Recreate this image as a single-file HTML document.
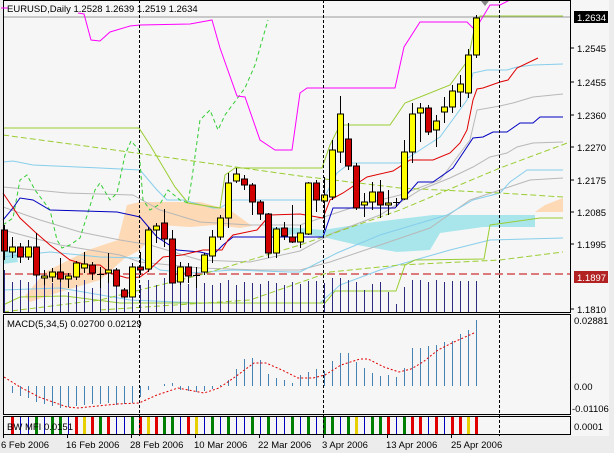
<!DOCTYPE html>
<html><head><meta charset="utf-8"><style>
html,body{margin:0;padding:0;background:#f0f0f0;}
svg{display:block;font-family:"Liberation Sans",sans-serif;}
</style></head><body>
<svg width="614" height="453" viewBox="0 0 614 453" xmlns="http://www.w3.org/2000/svg">
<rect x="0" y="0" width="614" height="453" fill="#ececec"/>
<rect x="3" y="0" width="568" height="312" fill="#f6f6f6"/>
<rect x="3" y="314" width="568" height="100" fill="#f6f6f6"/>
<rect x="3" y="416" width="568" height="18" fill="#f6f6f6"/>
<rect x="571" y="0" width="38" height="436" fill="#f6f6f6"/>

<!-- clouds -->
<polygon points="25,296 45,272 65,262 88,250 118,240 127,205 140,202 200,202 230,210 252,226 240,228 215,225 190,227 160,225 140,250 125,258 100,280 60,292 30,302" fill="#fdd9b5"/>
<polygon points="272,227 300,228 323,230 367,223 433,215 535,215 535,227 483,227 440,233 430,250 397,252 357,245 323,237 300,234 272,236" fill="#a8e6ec"/>
<polygon points="3,250 16,252 18,262 3,264" fill="#a8e6ec"/>
<polygon points="535,212 545,205 563,198 563,212" fill="#fdd9b5"/>

<!-- horizontal lines -->
<line x1="3" y1="17" x2="571" y2="17" stroke="#999" stroke-width="1"/>
<line x1="3" y1="274" x2="571" y2="274" stroke="#c00000" stroke-dasharray="8,4"/>

<g fill="none" stroke-width="1">
<polyline stroke="#b8b8b8" points="3,187 67,193 133,195 160,210 200,222 250,225 300,225 330,215 360,205 400,195 440,180 470,140 477,110 500,106 513,103 533,97 563,94"/>
<polyline stroke="#b8b8b8" points="3,207 40,220 80,232 120,240 150,245 200,260 250,262 300,251 333,233 380,215 420,190 450,178 473,167 490,157 507,153 517,147 533,143 563,142"/>
<polyline stroke="#b8b8b8" points="3,230 60,245 120,255 140,262 200,268 260,270 300,270 330,262 380,245 430,228 470,200 500,190 530,180 563,178"/>
<polyline stroke="#87ceeb" points="3,162 13,161 33,165 100,168 140,170 157,190 167,200 183,200 213,208 220,208 233,200 300,200 323,200 337,173 350,163 400,163 440,137 467,100 473,73 487,70 507,70 517,67 533,65 563,64"/>
<polyline stroke="#87ceeb" points="3,257 20,255 50,252 100,257 140,258 160,270 190,273 233,270 290,272 300,272 337,253 380,235 447,215 473,200 500,193 510,182 527,170 563,170"/>
<polyline stroke="#87ceeb" points="3,290 60,288 130,300 200,303 320,303 340,285 380,270 450,250 490,240 563,238"/>
<polyline stroke="#9acd32" points="3,128 139,128 150,145 175,187 188,203 220,208 225,175 235,168 322,168 330,145 340,125 390,125 405,103 450,85 468,60 476,20 480,16 563,16"/>
<polyline stroke="#9acd32" points="3,305 20,297 65,296 120,303 325,303 335,291 396,291 405,265 415,260 484,259 490,225 540,218 563,218"/>
<polyline stroke="#9acd32" stroke-dasharray="6,3" points="3,135 100,148 200,162 300,176 400,188 500,193 563,197"/>
<polyline stroke="#9acd32" stroke-dasharray="6,3" points="3,312 100,300 200,275 300,245 400,210 500,168 570,142"/>
<polyline stroke="#9acd32" stroke-dasharray="6,3" points="100,310 250,300 330,272 400,265 500,260 563,252"/>
<polyline stroke="#33cc33" stroke-dasharray="4,3" points="3,225 13,218 20,180 27,175 35,190 50,210 57,240 62,248 70,245 80,238 95,190 100,183 110,200 117,193 125,155 131,141 139,150 143,200 150,210 160,204 168,190 180,200 188,203 192,178 200,120 210,110 218,130 225,115 245,88 255,65 268,20"/>
<polyline stroke="#0000c0" points="3,220 13,208 20,198 33,200 50,210 117,212 140,217 157,237 177,250 200,252 213,255 223,245 233,237 323,237 333,208 395,208 418,182 433,182 453,168 473,138 483,137 493,132 507,132 520,123 533,123 540,117 563,117"/>
<polyline stroke="#e00000" points="3,193 20,218 35,232 50,245 70,260 87,265 100,265 110,273 127,278 140,277 147,272 163,257 182,255 203,250 222,250 228,240 233,235 257,230 270,215 300,214 323,218 330,200 343,193 367,177 393,171 410,160 433,160 450,153 460,143 467,130 473,100 477,89 483,88 500,82 508,80 517,68 538,58"/>
<polyline stroke="#ff00ff" points="78,13 84,14 91,40 100,41 110,32 130,26 140,25 190,24 212,20 220,48 237,96 245,97 260,140 275,150 292,150 300,93 307,88 395,88 404,47 420,22 467,22 475,30 490,5 500,5 510,0"/>
</g>

<g stroke="#2b2b80" stroke-width="1">
<line x1="4.5" y1="312" x2="4.5" y2="270"/><line x1="12.5" y1="312" x2="12.5" y2="282"/><line x1="20.5" y1="312" x2="20.5" y2="280"/><line x1="28.5" y1="312" x2="28.5" y2="282"/><line x1="36.5" y1="312" x2="36.5" y2="276"/><line x1="44.5" y1="312" x2="44.5" y2="284"/><line x1="52.5" y1="312" x2="52.5" y2="283"/><line x1="60.5" y1="312" x2="60.5" y2="282"/><line x1="68.5" y1="312" x2="68.5" y2="292"/><line x1="76.5" y1="312" x2="76.5" y2="285"/><line x1="84.5" y1="312" x2="84.5" y2="280"/><line x1="92.5" y1="312" x2="92.5" y2="288"/><line x1="100.5" y1="312" x2="100.5" y2="287"/><line x1="108.5" y1="312" x2="108.5" y2="280"/><line x1="116.5" y1="312" x2="116.5" y2="283"/><line x1="124.5" y1="312" x2="124.5" y2="296"/><line x1="132.5" y1="312" x2="132.5" y2="276"/><line x1="140.5" y1="312" x2="140.5" y2="285"/><line x1="148.5" y1="312" x2="148.5" y2="280"/><line x1="156.5" y1="312" x2="156.5" y2="285"/><line x1="164.5" y1="312" x2="164.5" y2="278"/><line x1="172.5" y1="312" x2="172.5" y2="283"/><line x1="180.5" y1="312" x2="180.5" y2="280"/><line x1="188.5" y1="312" x2="188.5" y2="284"/><line x1="196.5" y1="312" x2="196.5" y2="286"/><line x1="204.5" y1="312" x2="204.5" y2="283"/><line x1="212.5" y1="312" x2="212.5" y2="285"/><line x1="220.5" y1="312" x2="220.5" y2="283"/><line x1="228.5" y1="312" x2="228.5" y2="280"/><line x1="236.5" y1="312" x2="236.5" y2="285"/><line x1="244.5" y1="312" x2="244.5" y2="282"/><line x1="252.5" y1="312" x2="252.5" y2="283"/><line x1="260.5" y1="312" x2="260.5" y2="284"/><line x1="268.5" y1="312" x2="268.5" y2="281"/><line x1="276.5" y1="312" x2="276.5" y2="283"/><line x1="284.5" y1="312" x2="284.5" y2="285"/><line x1="292.5" y1="312" x2="292.5" y2="282"/><line x1="300.5" y1="312" x2="300.5" y2="284"/><line x1="308.5" y1="312" x2="308.5" y2="281"/><line x1="316.5" y1="312" x2="316.5" y2="281"/><line x1="324.5" y1="312" x2="324.5" y2="283"/><line x1="332.5" y1="312" x2="332.5" y2="278"/><line x1="340.5" y1="312" x2="340.5" y2="278"/><line x1="348.5" y1="312" x2="348.5" y2="280"/><line x1="356.5" y1="312" x2="356.5" y2="282"/><line x1="364.5" y1="312" x2="364.5" y2="290"/><line x1="372.5" y1="312" x2="372.5" y2="284"/><line x1="380.5" y1="312" x2="380.5" y2="282"/><line x1="388.5" y1="312" x2="388.5" y2="292"/><line x1="396.5" y1="312" x2="396.5" y2="304"/><line x1="404.5" y1="312" x2="404.5" y2="287"/><line x1="412.5" y1="312" x2="412.5" y2="280"/><line x1="420.5" y1="312" x2="420.5" y2="280"/><line x1="428.5" y1="312" x2="428.5" y2="282"/><line x1="436.5" y1="312" x2="436.5" y2="280"/><line x1="444.5" y1="312" x2="444.5" y2="282"/><line x1="452.5" y1="312" x2="452.5" y2="281"/><line x1="460.5" y1="312" x2="460.5" y2="281"/><line x1="468.5" y1="312" x2="468.5" y2="281"/><line x1="476.5" y1="312" x2="476.5" y2="281"/>
</g>

<g stroke="#000" stroke-width="1">
<line x1="4.5" y1="225" x2="4.5" y2="260"/><rect x="1.5" y="230" width="6" height="21" fill="#d00000"/>
<line x1="12.5" y1="237" x2="12.5" y2="258"/><rect x="9.5" y="247" width="6" height="5" fill="#ffff00"/>
<line x1="20.5" y1="243" x2="20.5" y2="263"/><rect x="17.5" y="247" width="6" height="10" fill="#d00000"/>
<line x1="28.5" y1="240" x2="28.5" y2="260"/><rect x="25.5" y="247" width="6" height="10" fill="#ffff00"/>
<line x1="36.5" y1="233" x2="36.5" y2="277"/><rect x="33.5" y="247" width="6" height="28" fill="#d00000"/>
<line x1="44.5" y1="270" x2="44.5" y2="285"/><rect x="41.5" y="276" width="6" height="2" fill="#ffff00"/>
<line x1="52.5" y1="268" x2="52.5" y2="282"/><rect x="49.5" y="272" width="6" height="5" fill="#ffff00"/>
<line x1="60.5" y1="258" x2="60.5" y2="282"/><rect x="57.5" y="272" width="6" height="7" fill="#d00000"/>
<line x1="68.5" y1="273" x2="68.5" y2="288"/><rect x="65.5" y="276" width="6" height="3" fill="#ffff00"/>
<line x1="76.5" y1="261" x2="76.5" y2="280"/><rect x="73.5" y="263" width="6" height="14" fill="#ffff00"/>
<line x1="84.5" y1="252" x2="84.5" y2="273"/><rect x="81.5" y="264" width="6" height="4" fill="#ffff00"/>
<line x1="92.5" y1="262" x2="92.5" y2="280"/><rect x="89.5" y="265" width="6" height="8" fill="#d00000"/>
<line x1="100.5" y1="267" x2="100.5" y2="288"/><line x1="97" y1="274.5" x2="104" y2="274.5"/>
<line x1="108.5" y1="253" x2="108.5" y2="283"/><rect x="105.5" y="270" width="6" height="3" fill="#ffff00"/>
<line x1="116.5" y1="268" x2="116.5" y2="287"/><rect x="113.5" y="270" width="6" height="16" fill="#d00000"/>
<line x1="124.5" y1="288" x2="124.5" y2="298"/><rect x="121.5" y="290" width="6" height="7" fill="#d00000"/>
<line x1="132.5" y1="263" x2="132.5" y2="297"/><rect x="129.5" y="267" width="6" height="30" fill="#ffff00"/>
<line x1="140.5" y1="252" x2="140.5" y2="275"/><rect x="137.5" y="267" width="6" height="3" fill="#d00000"/>
<line x1="148.5" y1="227" x2="148.5" y2="272"/><rect x="145.5" y="230" width="6" height="39" fill="#ffff00"/>
<line x1="156.5" y1="223" x2="156.5" y2="243"/><rect x="153.5" y="226" width="6" height="4" fill="#ffff00"/>
<line x1="164.5" y1="209" x2="164.5" y2="247"/><rect x="161.5" y="223" width="6" height="16" fill="#d00000"/>
<line x1="172.5" y1="230" x2="172.5" y2="283"/><rect x="169.5" y="239" width="6" height="44" fill="#d00000"/>
<line x1="180.5" y1="262" x2="180.5" y2="285"/><rect x="177.5" y="267" width="6" height="15" fill="#ffff00"/>
<line x1="188.5" y1="263" x2="188.5" y2="283"/><rect x="185.5" y="267" width="6" height="9" fill="#d00000"/>
<line x1="196.5" y1="267" x2="196.5" y2="288"/><line x1="193" y1="275.5" x2="200" y2="275.5"/>
<line x1="204.5" y1="253" x2="204.5" y2="275"/><rect x="201.5" y="255" width="6" height="17" fill="#ffff00"/>
<line x1="212.5" y1="230" x2="212.5" y2="263"/><rect x="209.5" y="237" width="6" height="19" fill="#ffff00"/>
<line x1="220.5" y1="215" x2="220.5" y2="240"/><rect x="217.5" y="218" width="6" height="19" fill="#ffff00"/>
<line x1="228.5" y1="173" x2="228.5" y2="228"/><rect x="225.5" y="183" width="6" height="35" fill="#ffff00"/>
<line x1="236.5" y1="168" x2="236.5" y2="183"/><rect x="233.5" y="174" width="6" height="7" fill="#ffff00"/>
<line x1="244.5" y1="175" x2="244.5" y2="190"/><rect x="241.5" y="179" width="6" height="6" fill="#d00000"/>
<line x1="252.5" y1="183" x2="252.5" y2="215"/><rect x="249.5" y="185" width="6" height="17" fill="#d00000"/>
<line x1="260.5" y1="200" x2="260.5" y2="220"/><rect x="257.5" y="202" width="6" height="12" fill="#d00000"/>
<line x1="268.5" y1="213" x2="268.5" y2="258"/><rect x="265.5" y="214" width="6" height="39" fill="#d00000"/>
<line x1="276.5" y1="227" x2="276.5" y2="258"/><rect x="273.5" y="229" width="6" height="24" fill="#ffff00"/>
<line x1="284.5" y1="222" x2="284.5" y2="240"/><rect x="281.5" y="228" width="6" height="8" fill="#d00000"/>
<line x1="292.5" y1="205" x2="292.5" y2="243"/><rect x="289.5" y="237" width="6" height="5" fill="#d00000"/>
<line x1="300.5" y1="225" x2="300.5" y2="248"/><rect x="297.5" y="233" width="6" height="9" fill="#ffff00"/>
<line x1="308.5" y1="182" x2="308.5" y2="235"/><rect x="305.5" y="183" width="6" height="51" fill="#ffff00"/>
<line x1="316.5" y1="180" x2="316.5" y2="212"/><rect x="313.5" y="183" width="6" height="17" fill="#d00000"/>
<line x1="324.5" y1="177" x2="324.5" y2="230"/><rect x="321.5" y="195" width="6" height="6" fill="#ffff00"/>
<line x1="332.5" y1="140" x2="332.5" y2="200"/><rect x="329.5" y="150" width="6" height="47" fill="#ffff00"/>
<line x1="340.5" y1="96" x2="340.5" y2="163"/><rect x="337.5" y="114" width="6" height="38" fill="#ffff00"/>
<line x1="348.5" y1="123" x2="348.5" y2="170"/><rect x="345.5" y="139" width="6" height="27" fill="#d00000"/>
<line x1="356.5" y1="163" x2="356.5" y2="210"/><rect x="353.5" y="166" width="6" height="42" fill="#d00000"/>
<line x1="364.5" y1="193" x2="364.5" y2="217"/><rect x="361.5" y="202" width="6" height="3" fill="#ffff00"/>
<line x1="372.5" y1="182" x2="372.5" y2="210"/><rect x="369.5" y="192" width="6" height="10" fill="#ffff00"/>
<line x1="380.5" y1="180" x2="380.5" y2="218"/><rect x="377.5" y="192" width="6" height="13" fill="#d00000"/>
<line x1="388.5" y1="190" x2="388.5" y2="215"/><rect x="385.5" y="203" width="6" height="2" fill="#ffff00"/>
<line x1="396.5" y1="198" x2="396.5" y2="207"/><line x1="393" y1="202.5" x2="400" y2="202.5"/>
<line x1="404.5" y1="140" x2="404.5" y2="200"/><rect x="401.5" y="152" width="6" height="47" fill="#ffff00"/>
<line x1="412.5" y1="103" x2="412.5" y2="163"/><rect x="409.5" y="114" width="6" height="38" fill="#ffff00"/>
<line x1="420.5" y1="103" x2="420.5" y2="142"/><rect x="417.5" y="108" width="6" height="5" fill="#ffff00"/>
<line x1="428.5" y1="105" x2="428.5" y2="135"/><rect x="425.5" y="108" width="6" height="24" fill="#d00000"/>
<line x1="436.5" y1="115" x2="436.5" y2="147"/><rect x="433.5" y="121" width="6" height="9" fill="#ffff00"/>
<line x1="444.5" y1="97" x2="444.5" y2="123"/><rect x="441.5" y="107" width="6" height="5" fill="#ffff00"/>
<line x1="452.5" y1="85" x2="452.5" y2="113"/><rect x="449.5" y="91" width="6" height="16" fill="#ffff00"/>
<line x1="460.5" y1="75" x2="460.5" y2="107"/><rect x="457.5" y="84" width="6" height="8" fill="#ffff00"/>
<line x1="468.5" y1="49" x2="468.5" y2="98"/><rect x="465.5" y="55" width="6" height="38" fill="#ffff00"/>
<line x1="476.5" y1="15" x2="476.5" y2="58"/><rect x="473.5" y="18" width="6" height="37" fill="#ffff00"/>
</g>

<g stroke="#4682b4" stroke-width="1">
<line x1="12.5" y1="386" x2="12.5" y2="393"/><line x1="20.5" y1="386" x2="20.5" y2="396"/><line x1="28.5" y1="386" x2="28.5" y2="398"/><line x1="36.5" y1="386" x2="36.5" y2="402"/><line x1="44.5" y1="386" x2="44.5" y2="404"/><line x1="52.5" y1="386" x2="52.5" y2="406"/><line x1="60.5" y1="386" x2="60.5" y2="408"/><line x1="68.5" y1="386" x2="68.5" y2="407"/><line x1="76.5" y1="386" x2="76.5" y2="406"/><line x1="84.5" y1="386" x2="84.5" y2="405"/><line x1="92.5" y1="386" x2="92.5" y2="404"/><line x1="100.5" y1="386" x2="100.5" y2="404"/><line x1="108.5" y1="386" x2="108.5" y2="403"/><line x1="116.5" y1="386" x2="116.5" y2="405"/><line x1="124.5" y1="386" x2="124.5" y2="404"/><line x1="132.5" y1="386" x2="132.5" y2="403"/><line x1="140.5" y1="386" x2="140.5" y2="397"/><line x1="148.5" y1="386" x2="148.5" y2="390"/><line x1="164.5" y1="386" x2="164.5" y2="384"/><line x1="172.5" y1="386" x2="172.5" y2="383"/><line x1="180.5" y1="386" x2="180.5" y2="390"/><line x1="188.5" y1="386" x2="188.5" y2="391"/><line x1="196.5" y1="386" x2="196.5" y2="392"/><line x1="204.5" y1="386" x2="204.5" y2="391"/><line x1="212.5" y1="386" x2="212.5" y2="389"/><line x1="220.5" y1="386" x2="220.5" y2="385"/><line x1="228.5" y1="386" x2="228.5" y2="380"/><line x1="236.5" y1="386" x2="236.5" y2="369"/><line x1="244.5" y1="386" x2="244.5" y2="359"/><line x1="252.5" y1="386" x2="252.5" y2="358"/><line x1="260.5" y1="386" x2="260.5" y2="360"/><line x1="268.5" y1="386" x2="268.5" y2="374"/><line x1="276.5" y1="386" x2="276.5" y2="378"/><line x1="284.5" y1="386" x2="284.5" y2="380"/><line x1="292.5" y1="386" x2="292.5" y2="383"/><line x1="300.5" y1="386" x2="300.5" y2="375"/><line x1="308.5" y1="386" x2="308.5" y2="372"/><line x1="316.5" y1="386" x2="316.5" y2="369"/><line x1="324.5" y1="386" x2="324.5" y2="371"/><line x1="332.5" y1="386" x2="332.5" y2="361"/><line x1="340.5" y1="386" x2="340.5" y2="353"/><line x1="348.5" y1="386" x2="348.5" y2="353"/><line x1="356.5" y1="386" x2="356.5" y2="362"/><line x1="364.5" y1="386" x2="364.5" y2="368"/><line x1="372.5" y1="386" x2="372.5" y2="373"/><line x1="380.5" y1="386" x2="380.5" y2="376"/><line x1="388.5" y1="386" x2="388.5" y2="375"/><line x1="396.5" y1="386" x2="396.5" y2="377"/><line x1="404.5" y1="386" x2="404.5" y2="368"/><line x1="412.5" y1="386" x2="412.5" y2="348"/><line x1="420.5" y1="386" x2="420.5" y2="348"/><line x1="428.5" y1="386" x2="428.5" y2="346"/><line x1="436.5" y1="386" x2="436.5" y2="345"/><line x1="444.5" y1="386" x2="444.5" y2="342"/><line x1="452.5" y1="386" x2="452.5" y2="341"/><line x1="460.5" y1="386" x2="460.5" y2="334"/><line x1="468.5" y1="386" x2="468.5" y2="330"/><line x1="476.5" y1="386" x2="476.5" y2="320"/>
</g>
<polyline fill="none" stroke="#e00000" stroke-dasharray="2,2" points="4,377 20,387 39,397 67,407 78,408 117,404 139,403 157,395 178,388 204,393 219,388 235,377 254,363 266,363 282,370 298,378 313,378 325,375 341,365 360,359 368,359 384,367 399,372 411,369 423,362 438,350 454,342 474,333"/>

<g stroke-width="3">
<line x1="12.5" y1="416" x2="12.5" y2="434" stroke="#e00000"/>
<line x1="36.5" y1="416" x2="36.5" y2="434" stroke="#008000"/>
<line x1="52.5" y1="416" x2="52.5" y2="434" stroke="#008000"/>
<line x1="60.5" y1="416" x2="60.5" y2="434" stroke="#008000"/>
<line x1="76.5" y1="416" x2="76.5" y2="434" stroke="#e00000"/>
<line x1="84.5" y1="416" x2="84.5" y2="434" stroke="#e8d000"/>
<line x1="92.5" y1="416" x2="92.5" y2="434" stroke="#e00000"/>
<line x1="100.5" y1="416" x2="100.5" y2="434" stroke="#008000"/>
<line x1="108.5" y1="416" x2="108.5" y2="434" stroke="#e00000"/>
<line x1="132.5" y1="416" x2="132.5" y2="434" stroke="#008000"/>
<line x1="140.5" y1="416" x2="140.5" y2="434" stroke="#e00000"/>
<line x1="148.5" y1="416" x2="148.5" y2="434" stroke="#e8d000"/>
<line x1="156.5" y1="416" x2="156.5" y2="434" stroke="#e00000"/>
<line x1="164.5" y1="416" x2="164.5" y2="434" stroke="#008000"/>
<line x1="172.5" y1="416" x2="172.5" y2="434" stroke="#008000"/>
<line x1="188.5" y1="416" x2="188.5" y2="434" stroke="#e00000"/>
<line x1="196.5" y1="416" x2="196.5" y2="434" stroke="#e8d000"/>
<line x1="212.5" y1="416" x2="212.5" y2="434" stroke="#008000"/>
<line x1="228.5" y1="416" x2="228.5" y2="434" stroke="#008000"/>
<line x1="252.5" y1="416" x2="252.5" y2="434" stroke="#008000"/>
<line x1="268.5" y1="416" x2="268.5" y2="434" stroke="#008000"/>
<line x1="292.5" y1="416" x2="292.5" y2="434" stroke="#008000"/>
<line x1="308.5" y1="416" x2="308.5" y2="434" stroke="#008000"/>
<line x1="324.5" y1="416" x2="324.5" y2="434" stroke="#008000"/>
<line x1="332.5" y1="416" x2="332.5" y2="434" stroke="#008000"/>
<line x1="348.5" y1="416" x2="348.5" y2="434" stroke="#008000"/>
<line x1="356.5" y1="416" x2="356.5" y2="434" stroke="#e8d000"/>
<line x1="372.5" y1="416" x2="372.5" y2="434" stroke="#008000"/>
<line x1="380.5" y1="416" x2="380.5" y2="434" stroke="#008000"/>
<line x1="388.5" y1="416" x2="388.5" y2="434" stroke="#e00000"/>
<line x1="404.5" y1="416" x2="404.5" y2="434" stroke="#008000"/>
<line x1="412.5" y1="416" x2="412.5" y2="434" stroke="#e00000"/>
<line x1="420.5" y1="416" x2="420.5" y2="434" stroke="#e00000"/>
<line x1="436.5" y1="416" x2="436.5" y2="434" stroke="#e00000"/>
<line x1="452.5" y1="416" x2="452.5" y2="434" stroke="#e00000"/>
<line x1="460.5" y1="416" x2="460.5" y2="434" stroke="#e00000"/>
<line x1="468.5" y1="416" x2="468.5" y2="434" stroke="#e8d000"/>
<line x1="476.5" y1="416" x2="476.5" y2="434" stroke="#e00000"/>
</g>
<g stroke="#0000c0" stroke-width="1">
<line x1="20.5" y1="416" x2="20.5" y2="434"/><line x1="28.5" y1="416" x2="28.5" y2="434"/><line x1="44.5" y1="416" x2="44.5" y2="434"/><line x1="68.5" y1="416" x2="68.5" y2="434"/><line x1="116.5" y1="416" x2="116.5" y2="434"/><line x1="124.5" y1="416" x2="124.5" y2="434"/><line x1="180.5" y1="416" x2="180.5" y2="434"/><line x1="204.5" y1="416" x2="204.5" y2="434"/><line x1="220.5" y1="416" x2="220.5" y2="434"/><line x1="236.5" y1="416" x2="236.5" y2="434"/><line x1="244.5" y1="416" x2="244.5" y2="434"/><line x1="260.5" y1="416" x2="260.5" y2="434"/><line x1="276.5" y1="416" x2="276.5" y2="434"/><line x1="284.5" y1="416" x2="284.5" y2="434"/><line x1="300.5" y1="416" x2="300.5" y2="434"/><line x1="316.5" y1="416" x2="316.5" y2="434"/><line x1="340.5" y1="416" x2="340.5" y2="434"/><line x1="364.5" y1="416" x2="364.5" y2="434"/><line x1="396.5" y1="416" x2="396.5" y2="434"/><line x1="428.5" y1="416" x2="428.5" y2="434"/><line x1="444.5" y1="416" x2="444.5" y2="434"/>
</g>

<g stroke="#000" stroke-dasharray="3,2">
<line x1="139.5" y1="0" x2="139.5" y2="436"/>
<line x1="323.5" y1="0" x2="323.5" y2="436"/>
<line x1="499.5" y1="0" x2="499.5" y2="436"/>
</g>

<g fill="none" stroke="#000" stroke-width="1">
<rect x="3.5" y="0.5" width="567" height="312"/>
<rect x="3.5" y="314.5" width="567" height="100"/>
<rect x="3.5" y="416.5" width="567" height="18"/>
</g>
<polygon points="481,1 489,1 485,6" fill="#888"/>

<line x1="1" y1="8" x2="8" y2="8" stroke="#ff00ff"/>
<g font-size="9.5" fill="#000">
<text x="7" y="12">EURUSD,Daily  1.2528 1.2639 1.2519 1.2634</text>
<text x="7" y="327">MACD(5,34,5) 0.02700 0.02129</text>
<text x="7" y="430">BW MFI 0.0151</text>
</g>

<g font-size="9.5" fill="#000">
<rect x="574" y="11" width="34" height="12" fill="#000"/>
<text x="577" y="21" fill="#fff">1.2634</text>
<text x="577" y="52">1.2545</text>
<text x="577" y="86">1.2455</text>
<text x="577" y="119">1.2360</text>
<text x="577" y="151">1.2270</text>
<text x="577" y="184">1.2175</text>
<text x="577" y="216">1.2085</text>
<text x="577" y="248">1.1995</text>
<rect x="574" y="271" width="34" height="12" fill="#b22222"/>
<text x="577" y="281" fill="#fff">1.1897</text>
<text x="577" y="313">1.1810</text>
<text x="574" y="324">0.02881</text>
<text x="574" y="390">0.00</text>
<text x="572" y="412">-0.01106</text>
<text x="574" y="430">0.0001</text>
</g>
<g stroke="#000">
<line x1="571" y1="48" x2="574" y2="48"/><line x1="571" y1="82" x2="574" y2="82"/><line x1="571" y1="115" x2="574" y2="115"/><line x1="571" y1="147" x2="574" y2="147"/><line x1="571" y1="180" x2="574" y2="180"/><line x1="571" y1="212" x2="574" y2="212"/><line x1="571" y1="244" x2="574" y2="244"/><line x1="571" y1="309" x2="574" y2="309"/>
</g>

<g font-size="9.5" fill="#000">
<text x="1" y="448">6 Feb 2006</text>
<text x="66" y="448">16 Feb 2006</text>
<text x="130" y="448">28 Feb 2006</text>
<text x="194" y="448">10 Mar 2006</text>
<text x="258" y="448">22 Mar 2006</text>
<text x="322" y="448">3 Apr 2006</text>
<text x="386" y="448">13 Apr 2006</text>
<text x="451" y="448">25 Apr 2006</text>
</g>
<g stroke="#000">
<line x1="3.5" y1="435" x2="3.5" y2="438"/><line x1="67.5" y1="435" x2="67.5" y2="438"/><line x1="131.5" y1="435" x2="131.5" y2="438"/><line x1="195.5" y1="435" x2="195.5" y2="438"/><line x1="259.5" y1="435" x2="259.5" y2="438"/><line x1="323.5" y1="435" x2="323.5" y2="438"/><line x1="387.5" y1="435" x2="387.5" y2="438"/><line x1="451.5" y1="435" x2="451.5" y2="438"/>
</g>
</svg>
</body></html>
